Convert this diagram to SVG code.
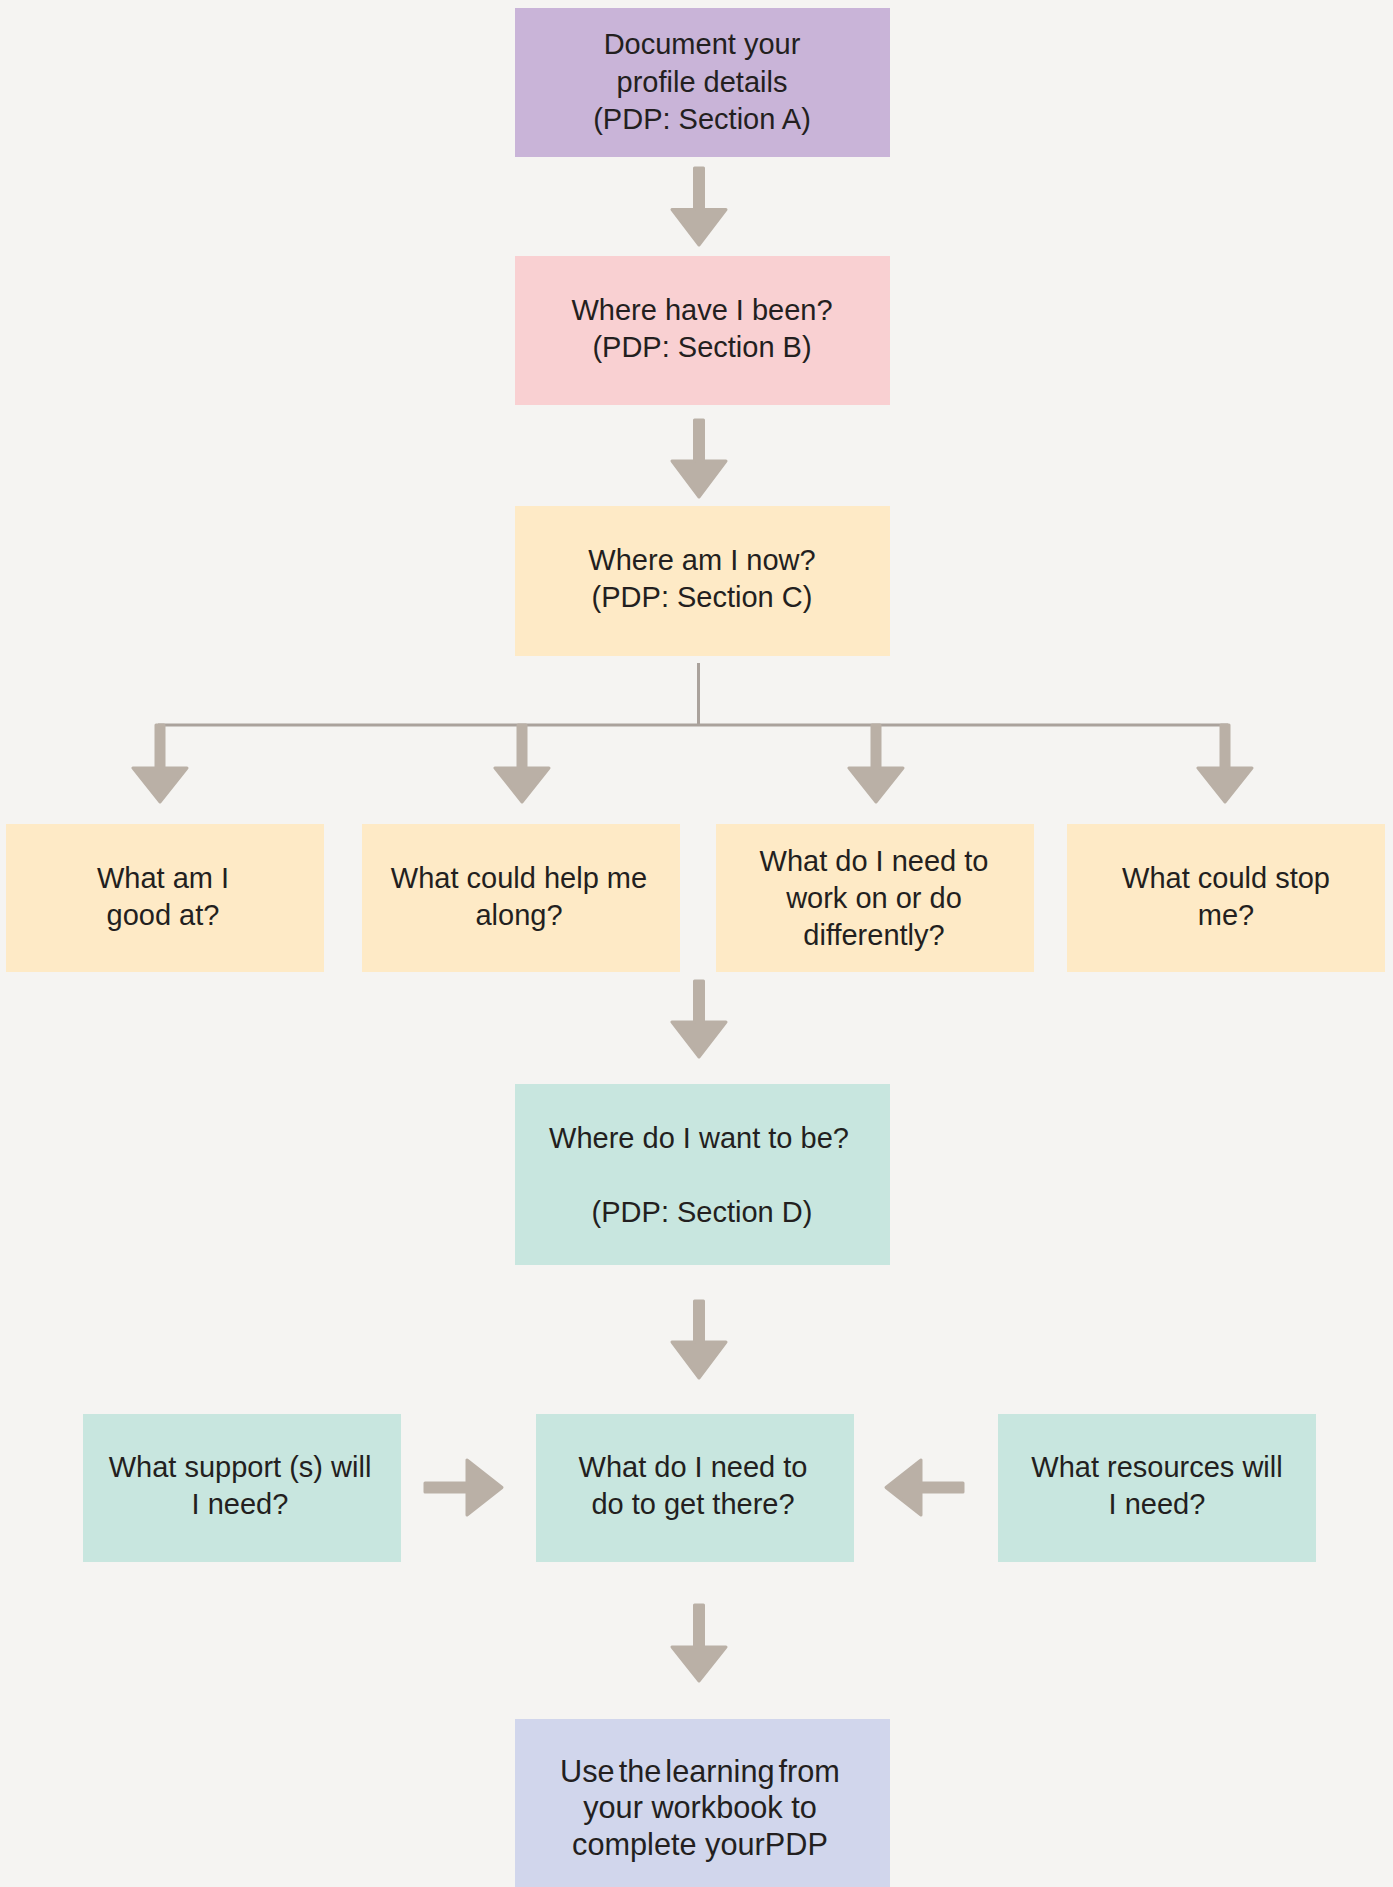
<svg xmlns="http://www.w3.org/2000/svg" width="1393" height="1887" viewBox="0 0 1393 1887">
<style>
.t{font-family:"Liberation Sans",Arial,sans-serif;font-size:29px;fill:#231f20;text-anchor:middle}
.e{font-size:30.7px}
.ar{fill:#bab0a6;stroke:#bab0a6;stroke-width:3;stroke-linejoin:round}
.ln{fill:none;stroke:#aaa29c;stroke-width:3}
</style>
<rect width="1393" height="1887" fill="#f5f4f2"/>
<g id="nodeA"><rect x="515" y="8" width="375" height="149" fill="#c9b4d8"/>
<text class="t" x="702" y="54">Document your</text><text class="t" x="702" y="91.5">profile details</text><text class="t" x="702" y="129">(PDP: Section A)</text></g>
<g id="nodeB"><rect x="515" y="256" width="375" height="149" fill="#f9d0d2"/>
<text class="t" x="702" y="319.5">Where have I been?</text><text class="t" x="702" y="356.5">(PDP: Section B)</text></g>
<g id="nodeC"><rect x="515" y="506" width="375" height="150" fill="#feeac6"/>
<text class="t" x="702" y="570">Where am I now?</text><text class="t" x="702" y="607">(PDP: Section C)</text></g>
<g id="nodeR1"><rect x="6" y="824" width="318" height="148" fill="#feeac6"/>
<text class="t" x="163" y="888">What am I</text><text class="t" x="163" y="925">good at?</text></g>
<g id="nodeR2"><rect x="362" y="824" width="318" height="148" fill="#feeac6"/>
<text class="t" x="519" y="888">What could help me</text><text class="t" x="519" y="925">along?</text></g>
<g id="nodeR3"><rect x="716" y="824" width="318" height="148" fill="#feeac6"/>
<text class="t" x="874" y="870.5">What do I need to</text><text class="t" x="874" y="907.5">work on or do</text><text class="t" x="874" y="944.5">differently?</text></g>
<g id="nodeR4"><rect x="1067" y="824" width="318" height="148" fill="#feeac6"/>
<text class="t" x="1226" y="888">What could stop</text><text class="t" x="1226" y="925">me?</text></g>
<g id="nodeD"><rect x="515" y="1084" width="375" height="181" fill="#c8e6df"/>
<text class="t" x="699" y="1147.5">Where do I want to be?</text><text class="t" x="702" y="1221.5">(PDP: Section D)</text></g>
<g id="nodeS"><rect x="83" y="1414" width="318" height="148" fill="#c8e6df"/>
<text class="t" x="240" y="1477">What support (s) will</text><text class="t" x="240" y="1514">I need?</text></g>
<g id="nodeM"><rect x="536" y="1414" width="318" height="148" fill="#c8e6df"/>
<text class="t" x="693" y="1477">What do I need to</text><text class="t" x="693" y="1514">do to get there?</text></g>
<g id="nodeRes"><rect x="998" y="1414" width="318" height="148" fill="#c8e6df"/>
<text class="t" x="1157" y="1477">What resources will</text><text class="t" x="1157" y="1514">I need?</text></g>
<g id="nodeE"><rect x="515" y="1719" width="375" height="168" fill="#d1d6ec"/>
<text class="t e" x="700" y="1782" word-spacing="-4.5">Use the learning from</text><text class="t e" x="700" y="1818">your workbook to</text><text class="t e" x="700" y="1855">complete yourPDP</text></g>
<g id="connectors">
<path class="ln" d="M698.5 663 V725 M158 725 H1228"/>
<path class="ar" d="M694.5 168 H703.5 V209.5 H726 L699 245 L672 209.5 H694.5 Z"/>
<path class="ar" d="M694.5 420 H703.5 V461 H726 L699 497 L672 461 H694.5 Z"/>
<path class="ar" d="M156 725 H164 V768 H187 L160 802 L133 768 H156 Z"/>
<path class="ar" d="M518 725 H526 V768 H549 L522 802 L495 768 H518 Z"/>
<path class="ar" d="M872 725 H880 V768 H903 L876 802 L849 768 H872 Z"/>
<path class="ar" d="M1221 725 H1229 V768 H1252 L1225 802 L1198 768 H1221 Z"/>
<path class="ar" d="M694.5 981 H703.5 V1022 H726 L699 1057 L672 1022 H694.5 Z"/>
<path class="ar" d="M694.5 1301 H703.5 V1342 H726 L699 1378 L672 1342 H694.5 Z"/>
<path class="ar" d="M694.5 1605 H703.5 V1647 H726 L699 1681 L672 1647 H694.5 Z"/>
<path class="ar" d="M425 1483 V1492 H467 V1515 L502 1487.5 L467 1460 V1483 Z"/>
<path class="ar" d="M963 1483 V1492 H921 V1515 L886 1487.5 L921 1460 V1483 Z"/>
</g>
</svg>
